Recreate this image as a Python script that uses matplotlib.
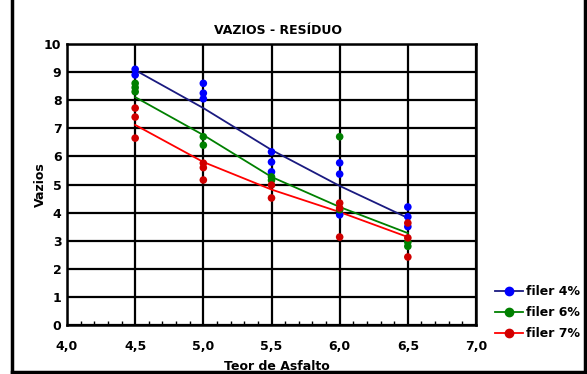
import matplotlib
matplotlib.use("Agg")
import matplotlib.pyplot as plt
from matplotlib.lines import Line2D
from matplotlib.ticker import MultipleLocator, FuncFormatter

# Scatter data (Teor de Asfalto, Vazios)
x_f4 = [4.5, 4.5, 5.0, 5.0, 5.0, 5.5, 5.5, 5.5, 6.0, 6.0, 6.0, 6.5, 6.5, 6.5]
y_f4 = [9.1, 8.9, 8.6, 8.25, 8.05, 6.16, 5.8, 5.45, 5.77, 5.37, 3.92, 4.2, 3.85, 3.5]
x_f6 = [4.5, 4.5, 4.5, 5.0, 5.0, 5.5, 5.5, 6.0, 6.0, 6.5, 6.5]
y_f6 = [8.6, 8.45, 8.3, 6.7, 6.4, 5.27, 5.15, 6.7, 4.1, 2.95, 2.8]
x_f7 = [4.5, 4.5, 4.5, 5.0, 5.0, 5.0, 5.5, 5.5, 6.0, 6.0, 6.0, 6.5, 6.5, 6.5]
y_f7 = [7.72, 7.4, 6.65, 5.76, 5.6, 5.16, 4.98, 4.52, 4.34, 4.16, 3.13, 3.63, 3.1, 2.42]

# Trend lines
x_trend = [4.5, 5.0, 5.5, 6.0, 6.5]
t_f4 = [9.07, 7.72, 6.23, 4.95, 3.81]
t_f6 = [8.11, 6.76, 5.27, 4.2, 3.27]
t_f7 = [7.12, 5.8, 4.82, 4.02, 3.13]

labels = ["filer 4%", "filer 6%", "filer 7%"]
x_ticks = [4.0, 4.5, 5.0, 5.5, 6.0, 6.5, 7.0]

fig = plt.figure(figsize=(5.87, 3.74), dpi=100)
ax = fig.add_axes([67/587, 1-325/374, (476-67)/587, (325-44)/374])

series = [
    (x_f4, y_f4, t_f4, "#0000ff", "#1a1a80"),
    (x_f6, y_f6, t_f6, "#008000", "#008000"),
    (x_f7, y_f7, t_f7, "#d00000", "#ff0000"),
]
handles = []
for (xs, ys, ts, mc, lc), lab in zip(series, labels):
    ax.plot(x_trend, ts, color=lc, lw=1.3, zorder=3)
    ax.scatter(xs, ys, s=30, color=mc, zorder=4, edgecolors="none")
    handles.append(Line2D([], [], color=lc, lw=1.3, marker="o", markersize=6,
                          markerfacecolor=mc, markeredgecolor=mc))

ax.set_xlim(4.0, 7.0)
ax.set_ylim(0, 10)
ax.set_xticks(x_ticks)
ax.xaxis.set_minor_locator(MultipleLocator(0.1))
ax.yaxis.set_major_locator(MultipleLocator(1))
ax.xaxis.set_major_formatter(FuncFormatter(lambda v, p: f"{v:.1f}".replace(".", ",")))
ax.grid(True, which="major", color="black", lw=1.6)
ax.tick_params(which="both", direction="in", length=0, labelsize=9, pad=4)
ax.tick_params(axis="x", which="major", pad=11)
ax.tick_params(axis="x", which="minor", length=3, width=1, direction="in", bottom=True)
for lab in ax.get_xticklabels() + ax.get_yticklabels():
    lab.set_fontweight("bold")
for sp in ax.spines.values():
    sp.set_linewidth(1.8)

fig.text(278/587, 1-31/374, "VAZIOS - RESÍDUO", ha="center", va="center",
         fontsize=9, fontweight="bold")
fig.text(277/587, 1-367/374, "Teor de Asfalto", ha="center", va="center",
         fontsize=9, fontweight="bold")
fig.text(40/587, 1-185/374, "Vazios", ha="center", va="center", rotation=90,
         fontsize=9, fontweight="bold")

leg = fig.legend(handles, labels, loc="upper left", bbox_to_anchor=(495/587, 1-285/374),
                 frameon=False, fontsize=9, handlelength=2.2, handletextpad=0.3,
                 labelspacing=0.65, borderaxespad=0, borderpad=0)
for t in leg.get_texts():
    t.set_fontweight("bold")

# frame lines of the picture
fig.add_artist(Line2D([12/587, 12/587], [1-372/374, 1.0], color="black", lw=2.5))
fig.add_artist(Line2D([585/587, 585/587], [1-372/374, 1.0], color="black", lw=2.5))
fig.add_artist(Line2D([12/587, 585/587], [1-372/374, 1-372/374], color="black", lw=2.5))

fig.savefig("out.png", dpi=100)
